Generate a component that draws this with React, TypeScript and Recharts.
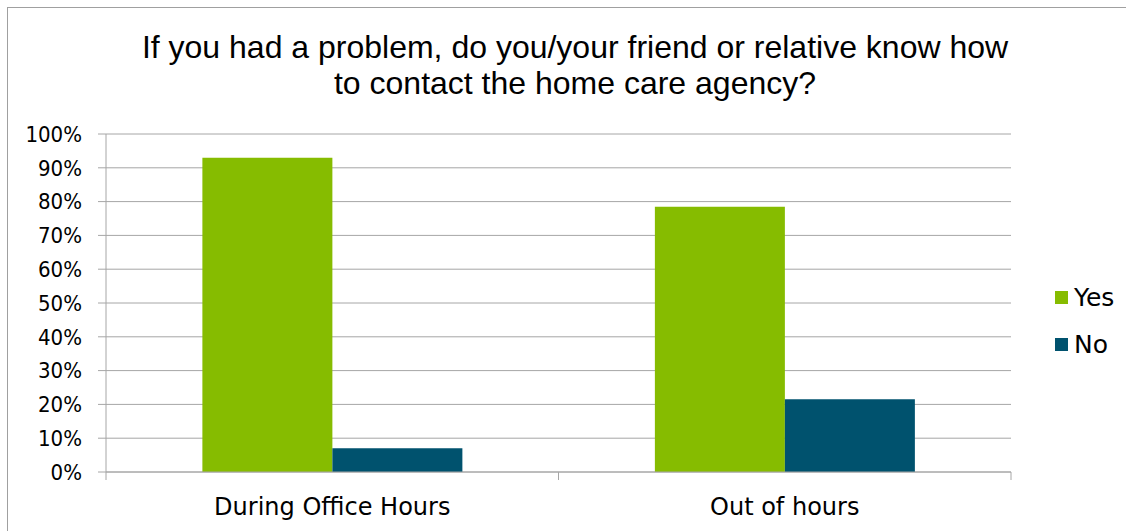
import React from 'react';
import { BarChart, Bar, XAxis, YAxis, CartesianGrid } from 'recharts';

const categories = ['During Office Hours', 'Out of hours'];
const yesValues = [0.93, 0.785];
const noValues = [0.07, 0.215];
const seriesNames = ['Yes', 'No'];
const seriesColors = ['#86bc00', '#00526e'];
const yTicks = [0, 0.1, 0.2, 0.3, 0.4, 0.5, 0.6, 0.7, 0.8, 0.9, 1];

const titleLines = [
  'If you had a problem, do you/your friend or relative know how',
  'to contact the home care agency?',
];

const data = categories.map((name, i) => ({ name, Yes: yesValues[i], No: noValues[i] }));

const W = 1126;
const H = 531;
const GRID = '#a6a6a6';
const COND_FONT = "'DejaVu Sans Condensed', 'DejaVu Sans', sans-serif";
const LABEL_FONT = "'DejaVu Sans', sans-serif";

// category label plus the small separator ticks between groups
function CategoryTick(props: any) {
  const { x, y, payload, index, visibleTicksCount } = props;
  const half = payload.offset || 0;
  const last = index === (visibleTicksCount || categories.length) - 1;
  return (
    <g>
      <line x1={x - half} x2={x - half} y1={y - 8} y2={y} stroke={GRID} />
      {last && <line x1={x + half} x2={x + half} y1={y - 8} y2={y} stroke={GRID} />}
      <text
        x={x}
        y={y + 35}
        textAnchor="middle"
        fill="#000"
        fontSize={24}
        fontFamily={LABEL_FONT}
      >
        {payload.value}
      </text>
    </g>
  );
}

export default function App() {
  return (
    <div style={{ position: 'absolute', left: 0, top: 0, width: W, height: H, overflow: 'hidden', background: '#fff' }}>
      <div
        style={{
          position: 'absolute',
          left: 7,
          top: 7,
          width: W + 20,
          height: H + 20,
          border: '1px solid #a0a0a0',
        }}
      />
      <div
        style={{
          position: 'absolute',
          left: 0,
          top: 28.5,
          width: 1150,
          textAlign: 'center',
          fontFamily: "'Liberation Sans', Arial, sans-serif",
          fontSize: 32,
          lineHeight: '36px',
          color: '#000',
        }}
      >
        {titleLines.map((t) => (
          <div key={t}>{t}</div>
        ))}
      </div>
      <BarChart
        width={W}
        height={H}
        data={data}
        margin={{ top: 134, right: 115, bottom: 0, left: 0 }}
        barCategoryGap="21.3%"
        barGap={0}
        style={{ position: 'absolute', left: 0, top: 0 }}
      >
        <CartesianGrid vertical={false} stroke={GRID} />
        <XAxis
          dataKey="name"
          axisLine={{ stroke: GRID }}
          tickLine={false}
          tick={<CategoryTick />}
          height={59}
          interval={0}
        />
        <YAxis
          domain={[0, 1]}
          ticks={yTicks}
          tickFormatter={(v: number) => `${Math.round(v * 100)}%`}
          width={106}
          axisLine={{ stroke: GRID }}
          tickLine={{ stroke: GRID }}
          tickSize={8}
          tickMargin={16}
          tick={{ fill: '#000', fontSize: 22, fontFamily: COND_FONT }}
          interval={0}
        />
        <Bar dataKey="Yes" fill={seriesColors[0]} isAnimationActive={false} />
        <Bar dataKey="No" fill={seriesColors[1]} isAnimationActive={false} />
      </BarChart>
      <div style={{ position: 'absolute', left: 1055, top: 281, fontFamily: LABEL_FONT, fontSize: 25 }}>
        {seriesNames.map((n, i) => (
          <div key={n} style={{ display: 'flex', alignItems: 'center', height: 32, marginBottom: 15.5 }}>
            <span style={{ display: 'inline-block', width: 13, height: 13, background: seriesColors[i], marginRight: 6 }} />
            <span>{n}</span>
          </div>
        ))}
      </div>
    </div>
  );
}
